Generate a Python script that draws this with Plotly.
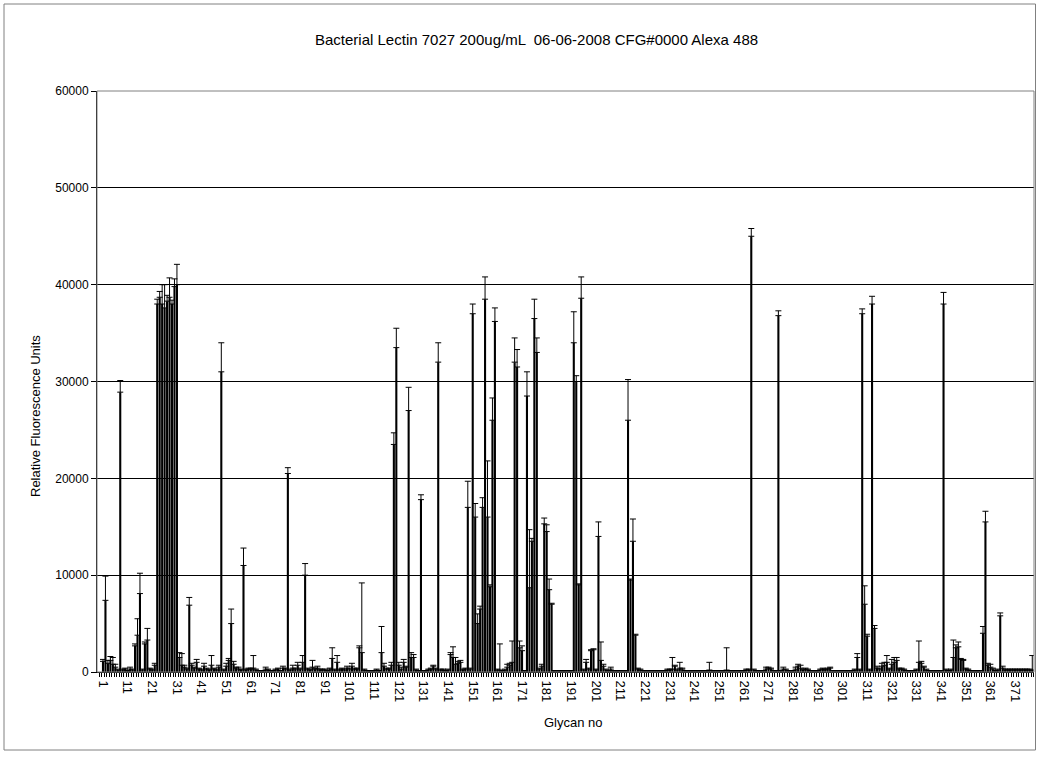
import plotly.graph_objects as go

title_text = "Bacterial Lectin 7027 200ug/mL  06-06-2008 CFG#0000 Alexa 488"
x_title = "Glycan no"
y_title = "Relative Fluorescence Units"

rfu = [
    1100, 7400, 900, 1200, 800, 500, 200, 28900, 200, 300,
    100, 300, 200, 2700, 3800, 8100, 200, 2900, 3300, 300,
    200, 700, 38000, 38700, 38000, 37600, 38300, 38700, 38000, 39800,
    40000, 1500, 700, 500, 300, 6900, 700, 400, 1000, 300,
    200, 600, 300, 200, 700, 300, 200, 500, 31000, 200,
    600, 1200, 5000, 800, 400, 300, 200, 11000, 200, 300,
    300, 400, 200, 100, 100, 100, 300, 200, 100, 100,
    200, 300, 100, 400, 300, 20500, 200, 400, 300, 700,
    300, 1000, 10000, 300, 200, 500, 300, 400, 200, 200,
    200, 100, 300, 1400, 200, 1000, 200, 300, 200, 400,
    300, 600, 300, 300, 2500, 2000, 200, 100, 100, 100,
    100, 200, 100, 2000, 600, 300, 300, 700, 23500, 33500,
    700, 300, 1000, 500, 27000, 1500, 1500, 200, 100, 17800,
    100, 100, 200, 300, 600, 300, 32000, 200, 200, 100,
    200, 1800, 1500, 800, 900, 1000, 200, 300, 17000, 300,
    37000, 16000, 5000, 6500, 17000, 38500, 16000, 8800, 26000, 36200,
    200, 200, 100, 200, 500, 700, 1000, 32000, 31500, 2500,
    2200, 100, 28500, 8700, 13500, 36500, 33000, 300, 600, 15300,
    14500, 8500, 7000, 100, 100, 100, 100, 100, 100, 100,
    100, 34000, 30000, 9000, 38600, 200, 1000, 300, 2200, 2300,
    200, 14000, 1200, 600, 200, 100, 300, 100, 100, 100,
    100, 100, 100, 26000, 9500, 13500, 3800, 300, 200, 100,
    100, 100, 100, 100, 100, 100, 100, 100, 100, 200,
    200, 300, 600, 200, 400, 300, 100, 100, 100, 100,
    100, 100, 100, 100, 100, 100, 200, 100, 100, 100,
    100, 100, 100, 200, 100, 100, 100, 100, 100, 100,
    100, 200, 200, 45000, 200, 100, 100, 100, 100, 300,
    400, 300, 100, 100, 36800, 100, 300, 200, 100, 100,
    100, 300, 600, 400, 200, 300, 200, 100, 100, 100,
    100, 200, 300, 200, 300, 400, 100, 100, 100, 100,
    100, 100, 100, 100, 100, 200, 1500, 200, 37000, 7000,
    3700, 200, 38000, 4500, 400, 300, 600, 700, 1000, 300,
    800, 1000, 1200, 300, 300, 200, 100, 100, 100, 100,
    200, 1000, 900, 500, 200, 100, 100, 100, 100, 100,
    100, 38000, 200, 100, 200, 1500, 2500, 2600, 1300, 1200,
    300, 200, 100, 100, 100, 100, 100, 4000, 15500, 700,
    500, 300, 100, 200, 5800, 400, 200, 200, 200, 200,
    200, 200, 200, 200, 200, 200, 200, 200,
]

stdev = [
    200, 2500, 300, 400, 700, 300, 100, 1200, 100, 100,
    50, 200, 100, 200, 1700, 2100, 100, 200, 1200, 100,
    100, 200, 500, 600, 2000, 2400, 600, 2000, 400, 800,
    2100, 500, 1200, 200, 100, 800, 200, 100, 300, 100,
    100, 300, 100, 100, 1000, 100, 100, 200, 3000, 100,
    300, 200, 1500, 300, 100, 200, 100, 1800, 100, 100,
    100, 1300, 100, 50, 50, 50, 200, 100, 50, 50,
    100, 100, 50, 200, 100, 600, 100, 300, 100, 300,
    100, 700, 1200, 100, 100, 700, 100, 200, 100, 100,
    100, 50, 100, 1100, 100, 700, 100, 100, 100, 200,
    100, 300, 100, 100, 200, 7200, 100, 50, 50, 50,
    50, 100, 50, 2700, 300, 100, 100, 300, 1200, 2000,
    300, 200, 300, 100, 2400, 500, 300, 100, 50, 500,
    50, 50, 100, 100, 100, 100, 2000, 100, 100, 50,
    100, 200, 1100, 700, 200, 200, 100, 100, 2700, 100,
    1000, 1400, 1000, 300, 1000, 2300, 5800, 200, 2300, 1400,
    100, 2700, 50, 100, 300, 200, 2200, 2500, 1800, 700,
    500, 50, 2500, 6000, 300, 2000, 1500, 100, 200, 600,
    700, 1100, 100, 50, 50, 50, 50, 50, 50, 50,
    50, 3200, 600, 100, 2200, 100, 300, 100, 100, 100,
    100, 1500, 1900, 200, 100, 50, 200, 50, 50, 50,
    50, 50, 50, 4200, 100, 2300, 100, 100, 100, 50,
    50, 50, 50, 50, 50, 50, 50, 50, 50, 100,
    100, 1200, 100, 100, 600, 100, 50, 50, 50, 50,
    50, 50, 50, 50, 50, 50, 800, 50, 50, 50,
    50, 50, 50, 2300, 50, 50, 50, 50, 50, 50,
    50, 100, 100, 800, 100, 50, 50, 50, 50, 200,
    100, 100, 50, 50, 500, 50, 200, 100, 50, 50,
    50, 200, 200, 300, 100, 100, 100, 50, 50, 50,
    50, 100, 100, 100, 100, 100, 50, 50, 50, 50,
    50, 50, 50, 50, 50, 100, 400, 100, 500, 1900,
    200, 100, 800, 300, 200, 100, 300, 300, 700, 100,
    500, 500, 300, 100, 100, 100, 50, 50, 50, 50,
    100, 2200, 200, 100, 100, 50, 50, 50, 50, 50,
    50, 1200, 100, 50, 100, 1800, 300, 500, 100, 100,
    100, 100, 50, 50, 50, 50, 50, 700, 1100, 200,
    300, 100, 50, 100, 300, 200, 100, 100, 100, 100,
    100, 100, 100, 100, 100, 100, 100, 1500,
]

glycan_no = list(range(1, len(rfu) + 1))
tick_vals = [1, 11, 21, 31, 41, 51, 61, 71, 81, 91, 101, 111, 121, 131, 141,
             151, 161, 171, 181, 191, 201, 211, 221, 231, 241, 251, 261, 271,
             281, 291, 301, 311, 321, 331, 341, 351, 361, 371]
y_ticks = [0, 10000, 20000, 30000, 40000, 50000, 60000]

FONT = "Liberation Sans, Arial, sans-serif"
W, H = 1038, 760
L, R, T, B = 97, 4, 91, 88

fig = go.Figure()
fig.add_trace(go.Bar(
    x=glycan_no, y=rfu,
    marker=dict(color="black", line=dict(width=0)),
    error_y=dict(type="data", array=stdev, arrayminus=[0] * len(stdev),
                 symmetric=False, color="black", thickness=1, width=3),
    showlegend=False,
))

pw = W - L - R
ph = H - T - B

def px_x(p):
    return (p - L) / pw

def px_y(p):
    return (H - B - p) / ph

fig.update_layout(
    width=W, height=H,
    margin=dict(l=L, r=R, t=T, b=B, autoexpand=False),
    paper_bgcolor="white", plot_bgcolor="white",
    bargap=0.15,
    font=dict(family=FONT, size=12, color="black"),
    xaxis=dict(
        range=[-1.43, 378.7], automargin=False,
        tickmode="array", tickvals=tick_vals, ticktext=[str(v) for v in tick_vals],
        tickangle=90, ticks="", showgrid=False, zeroline=False,
        showline=True, linecolor="black", linewidth=1,
        ticklabelstandoff=5,
        tickfont=dict(family=FONT, size=13, color="black"),
        minor=dict(ticks="outside", tick0=0.5, dtick=1, ticklen=4,
                   tickcolor="black", tickwidth=1, showgrid=False),
    ),
    yaxis=dict(
        range=[0, 60000], automargin=False, tickmode="array", tickvals=y_ticks,
        ticktext=[str(v) for v in y_ticks],
        ticks="outside", ticklen=5, tickcolor="black",
        showgrid=True, gridcolor="black", gridwidth=1, zeroline=False,
        showline=True, linecolor="black", linewidth=1,
        tickfont=dict(family=FONT, size=12, color="black"),
    ),
    annotations=[
        dict(text=title_text, xref="paper", yref="paper", x=px_x(536), y=px_y(40),
             xanchor="center", yanchor="middle", showarrow=False,
             font=dict(family=FONT, size=15, color="black")),
        dict(text=x_title, xref="paper", yref="paper", x=px_x(573), y=px_y(722),
             xanchor="center", yanchor="middle", showarrow=False,
             font=dict(family=FONT, size=13, color="black")),
        dict(text=y_title, xref="paper", yref="paper", x=px_x(35), y=px_y(416),
             xanchor="center", yanchor="middle", showarrow=False, textangle=-90,
             font=dict(family=FONT, size=13, color="black")),
    ],
    shapes=[
        dict(type="rect", xref="paper", yref="paper",
             x0=0, x1=1, y0=0, y1=1,
             line=dict(color="#808080", width=1), fillcolor="rgba(0,0,0,0)"),
        dict(type="rect", xref="paper", yref="paper",
             x0=px_x(4), x1=px_x(1035.5), y0=px_y(750), y1=px_y(4),
             line=dict(color="#808080", width=1), fillcolor="rgba(0,0,0,0)"),
    ],
)

fig.write_html("out.html", config={"displayModeBar": False},
               post_script="document.body.style.margin='0';document.body.style.overflow='hidden';")
